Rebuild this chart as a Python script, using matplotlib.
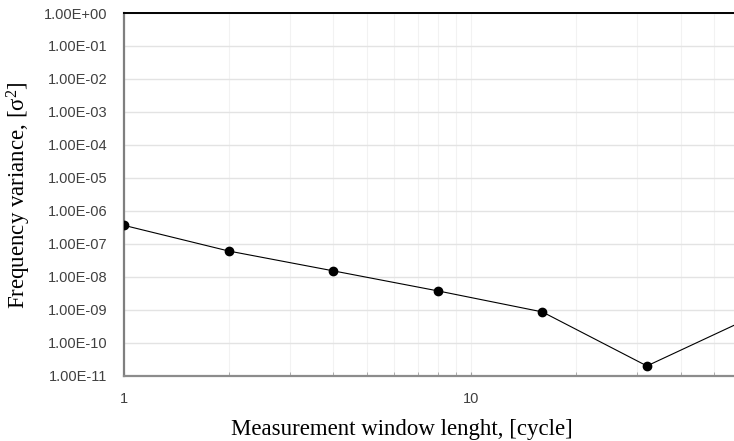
import matplotlib
matplotlib.use("Agg")
import matplotlib.pyplot as plt
from matplotlib.ticker import FixedLocator, FuncFormatter, NullFormatter

window = [1, 2, 4, 8, 16, 32, 64]
variance = [3.6e-7, 6.0e-8, 1.5e-8, 3.7e-9, 8.5e-10, 1.95e-11, 5.9e-10]
y_ticks = [10.0 ** (-k) for k in range(0, 12)]
x_major = [1, 10]
x_minor = [2, 3, 4, 5, 6, 7, 8, 9, 20, 30, 40, 50]

plt.rcParams['mathtext.fontset'] = 'custom'
plt.rcParams['mathtext.rm'] = 'Liberation Serif'
plt.rcParams['mathtext.it'] = 'Liberation Serif:italic'

fig = plt.figure(figsize=(7.34, 4.41), dpi=100)
ax = fig.add_axes([124/734, 1 - 375.5/441, 1 - 124/734 + 0.001, (375.5 - 13)/441])

ax.set_xscale('log')
ax.set_yscale('log')
ax.set_xlim(1, 10 ** ((734 - 124) / 347))
ax.set_ylim(1e-11, 1e0)

ax.plot(window, variance, color='black', linewidth=0.8, marker='o',
        markersize=6, markerfacecolor='black', markeredgecolor='black', zorder=3)

ax.yaxis.set_major_locator(FixedLocator(y_ticks))
ax.yaxis.set_minor_locator(FixedLocator([]))
ax.yaxis.set_major_formatter(FuncFormatter(lambda v, p: f"{v:.2E}"))
ax.xaxis.set_major_locator(FixedLocator(x_major))
ax.xaxis.set_minor_locator(FixedLocator(x_minor))
ax.xaxis.set_major_formatter(FuncFormatter(lambda v, p: f"{int(v)}"))
ax.xaxis.set_minor_formatter(NullFormatter())

ax.grid(True, which='major', axis='y', color='#e3e3e3', linewidth=1.0, zorder=0)
ax.grid(True, which='both', axis='x', color='#f2f2f2', linewidth=0.8, zorder=0)
ax.set_axisbelow(True)

for lbl in ax.get_yticklabels() + ax.get_xticklabels():
    lbl.set_fontfamily('Liberation Sans')
ax.tick_params(axis='y', which='both', length=0, pad=12, labelsize=10.5, labelcolor='#404040')
ax.tick_params(axis='x', which='both', direction='in', length=3, color='#a0a0a0',
               pad=12, labelsize=10.5, labelcolor='#404040')

ax.spines['right'].set_visible(False)
ax.spines['left'].set_color('#7f7f7f')
ax.spines['left'].set_linewidth(1.6)
ax.spines['bottom'].set_color('#8c8c8c')
ax.spines['bottom'].set_linewidth(1.6)
ax.spines['top'].set_color('black')
ax.spines['top'].set_linewidth(1.4)

ax.set_xlabel('Measurement window lenght, [cycle]', fontfamily='Liberation Serif',
              fontsize=16.5)
ax.xaxis.set_label_coords((402 - 124) / 610, -(429 - 375.5) / 362.5)
ax.xaxis.label.set_va('center')
ax.set_ylabel('Frequency variance, [σ$^{2}$]', fontfamily='Liberation Serif',
              fontsize=16.5)
ax.yaxis.set_label_coords(-(124 - 19) / 610, (375.5 - 195.5) / 362.5)
ax.yaxis.label.set_va('center')

fig.savefig('out.png', dpi=100)
